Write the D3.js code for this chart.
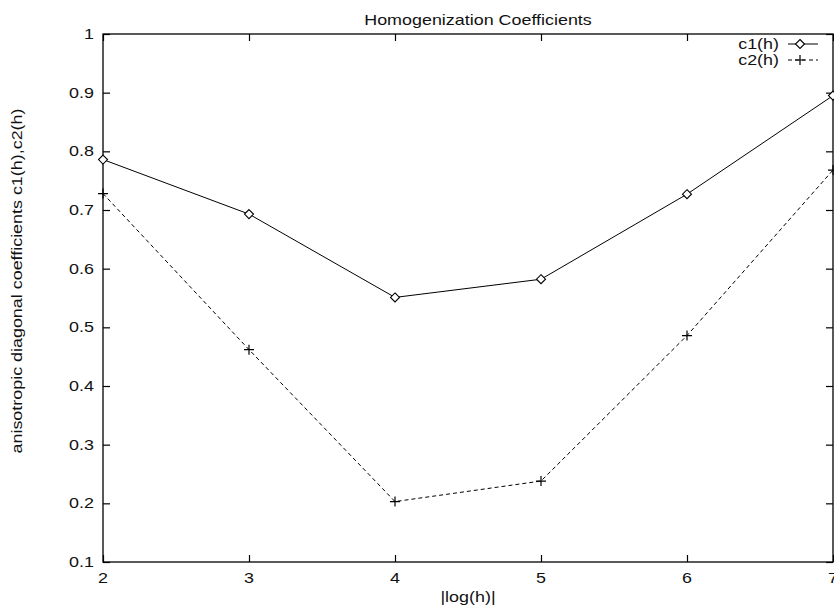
<!DOCTYPE html>
<html lang="en">
<head>
<meta charset="utf-8">
<title>Homogenization Coefficients</title>
<script src="https://d3js.org/d3.v7.min.js"></script>
<style>
  body { margin: 0; background: #fff; }
  svg { display: block; font-family: "Liberation Sans", Arial, sans-serif; }
</style>
</head>
<body>
<script>
// data
const xs = [2, 3, 4, 5, 6, 7];
const c1 = [0.786, 0.693, 0.551, 0.582, 0.727, 0.895];
const c2 = [0.728, 0.462, 0.203, 0.238, 0.486, 0.768];
const yTicks = [0.1, 0.2, 0.3, 0.4, 0.5, 0.6, 0.7, 0.8, 0.9, 1];
const xTicks = [2, 3, 4, 5, 6, 7];

const W = 834, H = 605;
const L = 103, R = 833, T = 34, B = 562;
const SX = 1.28; // the reference glyphs are wider than tall

const svg = d3.select("body").append("svg")
  .attr("width", W).attr("height", H);

const x = d3.scaleLinear().domain([2, 7]).range([L, R]);
const y = d3.scaleLinear().domain([0.1, 1]).range([B, T]);

// stretched text helper
function label(g, tx, ty, str, anchor, rot) {
  return g.append("text")
    .attr("transform", `translate(${tx},${ty})${rot ? " rotate(" + rot + ")" : ""} scale(${SX},1)`)
    .attr("text-anchor", anchor).attr("font-size", 14).attr("fill", "#111")
    .text(str);
}

// frame
svg.append("rect")
  .attr("x", L).attr("y", T).attr("width", R - L).attr("height", B - T)
  .attr("fill", "none").attr("stroke", "#000").attr("stroke-width", 1.3);

const fmt = d => d === 1 ? "1" : d3.format(".1f")(d);

// left / right axes (ticks inward)
svg.append("g").attr("transform", `translate(${L},0)`)
  .call(d3.axisRight(y).tickValues(yTicks).tickSize(7).tickFormat(""))
  .call(g => g.select(".domain").remove());
svg.append("g").attr("transform", `translate(${R},0)`)
  .call(d3.axisLeft(y).tickValues(yTicks).tickSize(7).tickFormat(""))
  .call(g => g.select(".domain").remove());
const yl = svg.append("g");
yTicks.forEach(d => label(yl, L - 9, y(d) + 5, fmt(d), "end"));

// bottom / top axes
svg.append("g").attr("transform", `translate(0,${B})`)
  .call(d3.axisTop(x).tickValues(xTicks).tickSize(7).tickFormat(""))
  .call(g => g.select(".domain").remove());
svg.append("g").attr("transform", `translate(0,${T})`)
  .call(d3.axisBottom(x).tickValues(xTicks).tickSize(7).tickFormat(""))
  .call(g => g.select(".domain").remove());
const xl = svg.append("g");
xTicks.forEach(d => label(xl, x(d), B + 21, d, "middle"));

svg.selectAll(".tick line").attr("stroke", "#000").attr("stroke-width", 1.2);

// titles
label(svg, 478, 25, "Homogenization Coefficients", "middle");
label(svg, 468, 602, "|log(h)|", "middle");
label(svg, 22, 281, "anisotropic diagonal coefficients c1(h),c2(h)", "middle", -90);

// lines
const line = d3.line().x((d, i) => x(xs[i])).y(d => y(d));
svg.append("path").datum(c1).attr("d", line)
  .attr("fill", "none").attr("stroke", "#000").attr("stroke-width", 1);
svg.append("path").datum(c2).attr("d", line)
  .attr("fill", "none").attr("stroke", "#000").attr("stroke-width", 1)
  .attr("stroke-dasharray", "4,3");

// markers
const diamond = (cx, cy) => `M${cx},${cy - 4.5}L${cx + 4.5},${cy}L${cx},${cy + 4.5}L${cx - 4.5},${cy}Z`;
const plus = (cx, cy) => `M${cx - 5},${cy}H${cx + 5}M${cx},${cy - 5}V${cy + 5}`;

svg.append("g").selectAll("path").data(c1).join("path")
  .attr("d", (d, i) => diamond(x(xs[i]), y(d)))
  .attr("fill", "#fff").attr("stroke", "#000").attr("stroke-width", 1.1);
svg.append("g").selectAll("path").data(c2).join("path")
  .attr("d", (d, i) => plus(x(xs[i]), y(d)))
  .attr("stroke", "#000").attr("stroke-width", 1.2);

// legend
const lg = svg.append("g");
label(lg, 779, 49, "c1(h)", "end");
lg.append("line").attr("x1", 788).attr("x2", 818).attr("y1", 44).attr("y2", 44)
  .attr("stroke", "#000");
lg.append("path").attr("d", diamond(800, 44))
  .attr("fill", "#fff").attr("stroke", "#000").attr("stroke-width", 1.1);
label(lg, 779, 65, "c2(h)", "end");
lg.append("line").attr("x1", 788).attr("x2", 818).attr("y1", 60).attr("y2", 60)
  .attr("stroke", "#000").attr("stroke-dasharray", "4,3");
lg.append("path").attr("d", plus(800, 60))
  .attr("stroke", "#000").attr("stroke-width", 1.2);
</script>
</body>
</html>
